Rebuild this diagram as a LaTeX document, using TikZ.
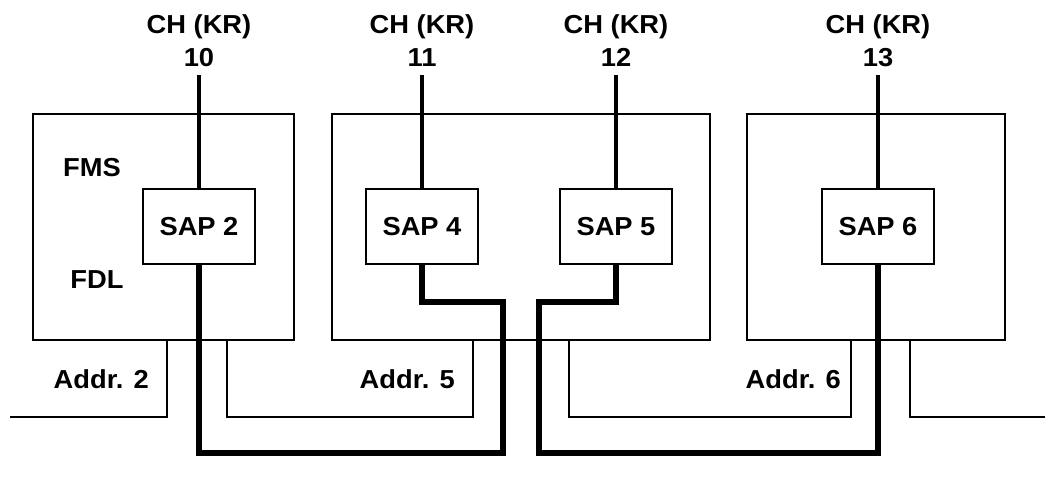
\documentclass[tikz,border=0pt]{standalone}
\usepackage{fontspec}
\setmainfont{Liberation Sans}[FakeStretch=1.05]
\usepackage{tikz}
\usetikzlibrary{positioning}

\begin{document}
\begin{tikzpicture}[x=1pt, y=-1pt,
  every node/.style={inner sep=0pt},
  lbl/.style={font=\fontsize{26}{33}\selectfont\bfseries, align=center},
  devbox/.style={draw, line width=1.1pt, minimum width=#1, minimum height=226pt},
  sapbox/.style={draw, line width=1.1pt, minimum width=112pt, minimum height=75pt,
                 font=\fontsize{26}{30}\selectfont\bfseries},
  chline/.style={line width=4pt, shorten <=8pt},
  link/.style={line width=6pt, line join=miter},
  bus/.style={line width=1.8pt}]
\useasboundingbox (0,0) rectangle (1053,490);

% stations
\node[devbox=261pt] (dev2) at (163.5,227) {};
\node[devbox=378pt] (dev5) at (521,227) {};
\node[devbox=258pt] (dev6) at (876,227) {};

\node[sapbox] (sap2) at (199,226.5) {SAP 2};
\node[sapbox] (sap4) at (422,226.5) {SAP 4};
\node[sapbox] (sap5) at (616,226.5) {SAP 5};
\node[sapbox] (sap6) at (878,226.5) {SAP 6};

\node[lbl] (fms) at (92,168) {FMS};
\node[lbl] (fdl) at (97,280) {FDL};

% channels
\node[lbl, anchor=south] (ch10) at (199,67) {CH (KR)\\10};
\node[lbl, anchor=south] (ch11) at (422,67) {CH (KR)\\11};
\node[lbl, anchor=south] (ch12) at (616,67) {CH (KR)\\12};
\node[lbl, anchor=south] (ch13) at (878,67) {CH (KR)\\13};
\draw[chline] (ch10) -- (sap2);
\draw[chline] (ch11) -- (sap4);
\draw[chline] (ch12) -- (sap5);
\draw[chline] (ch13) -- (sap6);

% links
\coordinate (lkA) at (503,453);
\coordinate (lkB) at (503,302);
\coordinate (lkC) at (539,302);
\coordinate (lkD) at (539,453);
\draw[link] (sap2.south) |- (lkA) -- (lkB) -| (sap4.south);
\draw[link] (sap5.south) |- (lkC) -- (lkD) -| (sap6.south);

% bus
\coordinate (busL) at (10,417);
\coordinate (busR) at (1045,417);
\coordinate (t2a) at (167,340);
\coordinate (t2b) at (227,340);
\coordinate (t5a) at (473,340);
\coordinate (t5b) at (569,340);
\coordinate (t6a) at (851,340);
\coordinate (t6b) at (910,340);
\draw[bus] (busL) -| (t2a);
\draw[bus] (t2b) |- (busL -| t5a) -- (t5a);
\draw[bus] (t5b) |- (busL -| t6a) -- (t6a);
\draw[bus] (t6b) |- (busR);

\node[lbl, anchor=east] (addr2) at (149,379) {Addr. 2};
\node[lbl, anchor=east] (addr5) at (455,379) {Addr. 5};
\node[lbl, anchor=east] (addr6) at (841,379) {Addr. 6};
\end{tikzpicture}
\end{document}
